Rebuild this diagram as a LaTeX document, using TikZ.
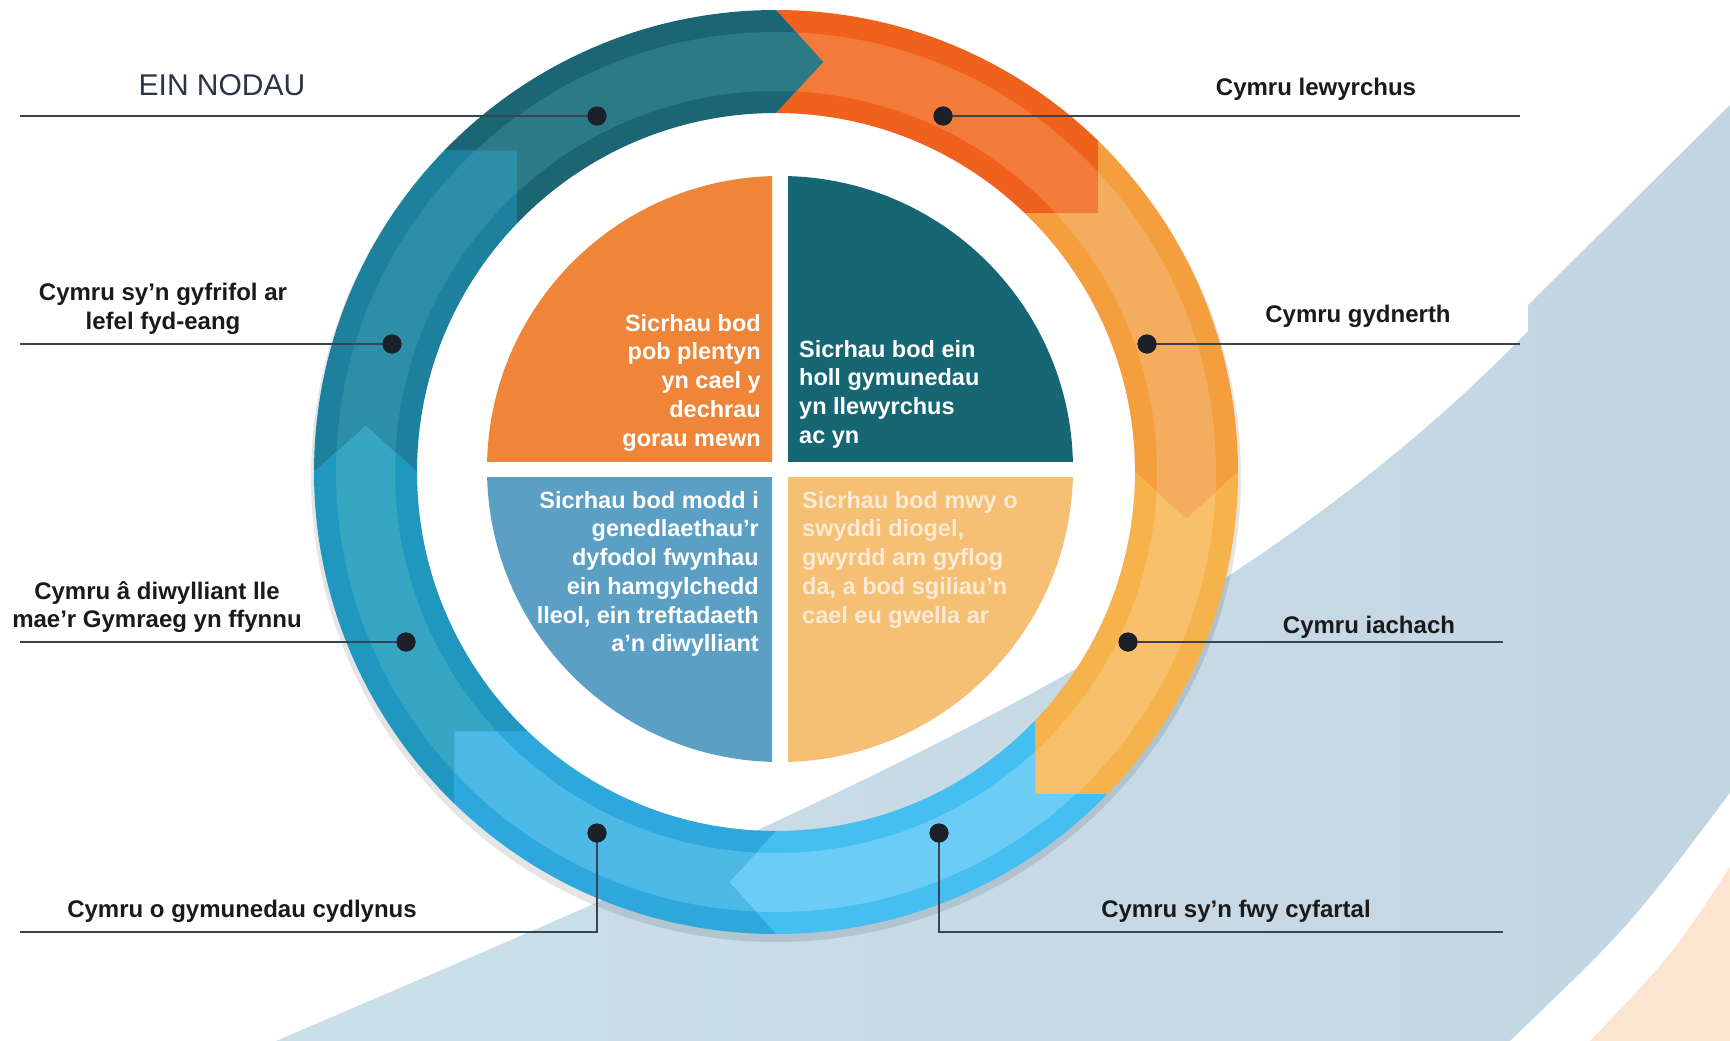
\documentclass[tikz,border=0pt]{standalone}
\usepackage{fontspec}
\setmainfont{Liberation Sans}
\definecolor{bgL}{HTML}{C9E0EA}
\definecolor{bgR}{HTML}{C4D5E2}
\definecolor{peach}{HTML}{FBE4D0}
\definecolor{DTd}{HTML}{1B6674}
\definecolor{DTl}{HTML}{2C7A87}
\definecolor{LTd}{HTML}{1D809C}
\definecolor{LTl}{HTML}{2C8FA7}
\definecolor{BTd}{HTML}{2097BF}
\definecolor{BTl}{HTML}{37A6C3}
\definecolor{MBd}{HTML}{2EA8DC}
\definecolor{MBl}{HTML}{4CB9E6}
\definecolor{SBd}{HTML}{45BEF0}
\definecolor{SBl}{HTML}{6BCDF6}
\definecolor{YOd}{HTML}{F7B34B}
\definecolor{YOl}{HTML}{F8C06A}
\definecolor{LOd}{HTML}{F59E3E}
\definecolor{LOl}{HTML}{F4AD5F}
\definecolor{ORd}{HTML}{EF611C}
\definecolor{ORl}{HTML}{F27B3A}
\definecolor{qTL}{HTML}{EE8538}
\definecolor{qTR}{HTML}{176674}
\definecolor{qBL}{HTML}{5B9FC5}
\definecolor{qBR}{HTML}{F5BF74}
\definecolor{qBRtxt}{HTML}{FDEAD4}
\definecolor{linec}{HTML}{3A4450}
\definecolor{dotc}{HTML}{1C2029}
\definecolor{lblc}{HTML}{1A1A1A}
\definecolor{headc}{HTML}{2A3547}
\newcommand\ringseg[3]{%
  \begin{scope}
    \clip #1;
    \fill[#2,even odd rule] (0,0) circle[radius=462] (0,0) circle[radius=359];
    \fill[#3,even odd rule] (0,0) circle[radius=440] (0,0) circle[radius=381];
  \end{scope}}
\begin{document}
\begin{tikzpicture}[x=1pt,y=-1pt,
  conn/.style={draw=linec, line width=2.8pt},
  dotn/.style={circle, fill=dotc, inner sep=0pt, minimum size=19pt},
  lbl/.style={font=\fontsize{24}{28.5}\selectfont\bfseries, text=lblc, align=center, inner sep=0pt},
  qtxt/.style={font=\fontsize{23.5}{28.7}\selectfont\bfseries, text=white, inner sep=0pt}]
\useasboundingbox (0,0) rectangle (1730,1041);
\fill[white] (0,0) rectangle (1730,1041);
% background
\shade[left color=bgL, right color=bgR]
  (276,1041) .. controls (800,816) and (1230,640) .. (1528,331)
  -- (1528,305) -- (1730,105) -- (1730,1041) -- cycle;
\fill[white] (1730,793) .. controls (1630,926) .. (1510,1041) -- (1730,1041) -- cycle;
\fill[peach] (1730,867) .. controls (1672,955) .. (1590,1041) -- (1730,1041) -- cycle;
% ring shadow
\fill[black, opacity=0.10, even odd rule] (776,477) circle[radius=465] (776,472) circle[radius=359];
% ring
\begin{scope}[shift={(776,472)}, yscale=-1]
  \ringseg{(0,0) -- (0,359) -- (47,410) -- (0,462) -- (0,700) -- (322,700) -- (322,259) -- (200,259) -- cycle}{ORd}{ORl}
  \ringseg{(0,0) -- (200,259) -- (322,259) -- (322,700) -- (700,700) -- (700,0) -- (462,0) -- (410,-47) -- (359,0) -- cycle}{LOd}{LOl}
  \ringseg{(0,0) -- (359,0) -- (410,-47) -- (462,0) -- (700,0) -- (700,-322) -- (259,-322) -- (259,-200) -- cycle}{YOd}{YOl}
  \ringseg{(0,0) -- (259,-200) -- (259,-322) -- (700,-322) -- (700,-700) -- (0,-700) -- (0,-462) -- (-47,-410) -- (0,-359) -- cycle}{SBd}{SBl}
  \ringseg{(0,0) -- (0,-359) -- (-47,-410) -- (0,-462) -- (0,-700) -- (-322,-700) -- (-322,-259) -- (-200,-259) -- cycle}{MBd}{MBl}
  \ringseg{(0,0) -- (-200,-259) -- (-322,-259) -- (-322,-700) -- (-700,-700) -- (-700,0) -- (-462,0) -- (-410,47) -- (-359,0) -- cycle}{BTd}{BTl}
  \ringseg{(0,0) -- (-359,0) -- (-410,47) -- (-462,0) -- (-700,0) -- (-700,322) -- (-259,322) -- (-259,200) -- cycle}{LTd}{LTl}
  \ringseg{(0,0) -- (-259,200) -- (-259,322) -- (-700,322) -- (-700,700) -- (0,700) -- (0,462) -- (47,410) -- (0,359) -- cycle}{DTd}{DTl}
\end{scope}
% quadrants
\begin{scope}[shift={(780,469)}, yscale=-1]
  \begin{scope}\clip (-300,8) rectangle (-8,300); \fill[qTL] (0,0) circle[radius=293]; \end{scope}
  \begin{scope}\clip (8,8) rectangle (300,300); \fill[qTR] (0,0) circle[radius=293]; \end{scope}
  \begin{scope}\clip (-300,-8) rectangle (-8,-300); \fill[qBL] (0,0) circle[radius=293]; \end{scope}
  \begin{scope}\clip (8,-8) rectangle (300,-300); \fill[qBR] (0,0) circle[radius=293]; \end{scope}
\end{scope}
% quadrant texts
\node[qtxt, align=right, anchor=north east] (tTL) at (761,314) {Sicrhau bod\\pob plentyn\\yn cael y\\dechrau\\gorau mewn};
\node[qtxt, align=left, anchor=north west] (tTR) at (799,340) {Sicrhau bod ein\\holl gymunedau\\yn llewyrchus\\ac yn};
\node[qtxt, align=right, anchor=north east] (tBL) at (759,491) {Sicrhau bod modd i\\genedlaethau’r\\dyfodol fwynhau\\ein hamgylchedd\\lleol, ein treftadaeth\\a’n diwylliant};
\node[qtxt, text=qBRtxt, align=left, anchor=north west] (tBR) at (802,491) {Sicrhau bod mwy o\\swyddi diogel,\\gwyrdd am gyflog\\da, a bod sgiliau’n\\cael eu gwella ar};
% dots
\node[dotn] (d1) at (597,116) {};
\node[dotn] (d2) at (943,116) {};
\node[dotn] (d3) at (392,344) {};
\node[dotn] (d4) at (1147,344) {};
\node[dotn] (d5) at (406,642) {};
\node[dotn] (d6) at (1128,642) {};
\node[dotn] (d7) at (597,833) {};
\node[dotn] (d8) at (939,833) {};
% line ends
\coordinate (e1) at (20,116);
\coordinate (e2) at (1520,116);
\coordinate (e3) at (20,344);
\coordinate (e4) at (1520,344);
\coordinate (e5) at (20,642);
\coordinate (e6) at (1503,642);
\coordinate (e7) at (20,932);
\coordinate (e8) at (1503,932);
% connectors
\draw[conn] (e1) -- (d1.center);
\draw[conn] (d2.center) -- (e2);
\draw[conn] (e3) -- (d3.center);
\draw[conn] (d4.center) -- (e4);
\draw[conn] (e5) -- (d5.center);
\draw[conn] (d6.center) -- (e6);
\draw[conn] (e7) -| (d7.center);
\draw[conn] (d8.center) |- (e8);
\node[dotn] at (d1) {};\node[dotn] at (d2) {};\node[dotn] at (d3) {};\node[dotn] at (d4) {};
\node[dotn] at (d5) {};\node[dotn] at (d6) {};\node[dotn] at (d7) {};\node[dotn] at (d8) {};
% labels
\node[font=\fontsize{30}{34}\selectfont, text=headc, inner sep=0pt] (head) at (222,85) {EIN NODAU};
\node[lbl] (L2) at (1316,89) {Cymru lewyrchus};
\node[lbl] (L3) at (163,309) {Cymru sy’n gyfrifol ar\\lefel fyd-eang};
\node[lbl] (L4) at (1358,316) {Cymru gydnerth};
\node[lbl] (L5) at (157,607) {Cymru â diwylliant lle\\mae’r Gymraeg yn ffynnu};
\node[lbl] (L6) at (1369,627) {Cymru iachach};
\node[lbl] (L7) at (242,911) {Cymru o gymunedau cydlynus};
\node[lbl] (L8) at (1236,911) {Cymru sy’n fwy cyfartal};
\end{tikzpicture}
\end{document}
